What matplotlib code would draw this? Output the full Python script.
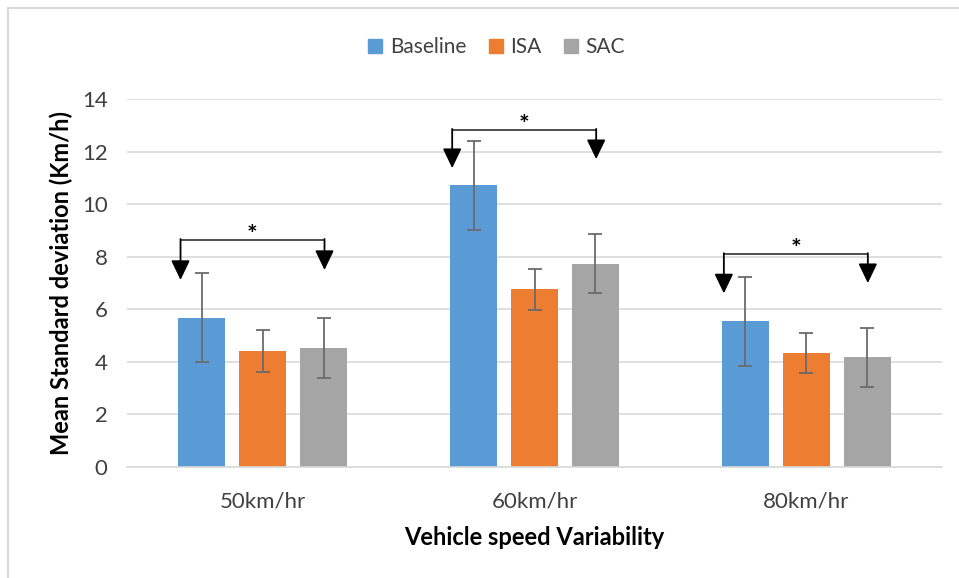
import numpy as np
import matplotlib.pyplot as plt
from matplotlib.lines import Line2D

plt.rcParams['font.family'] = ['Lato', 'DejaVu Sans']

# data
categories = ['50km/hr', '60km/hr', '80km/hr']
series_names = ['Baseline', 'ISA', 'SAC']
baseline = [5.68, 10.72, 5.54]
baseline_err = [1.70, 1.69, 1.69]
isa = [4.41, 6.76, 4.32]
isa_err = [0.79, 0.78, 0.77]
sac = [4.51, 7.73, 4.17]
sac_err = [1.15, 1.13, 1.12]

# significance brackets (Baseline vs SAC)
bracket_y = [8.64, 12.83, 8.10]
left_tip = [7.11, 11.37, 6.60]
right_tip = [7.49, 11.71, 6.99]

colors = ['#5B9BD5', '#ED7D31', '#A5A5A5']

fig = plt.figure(figsize=(9.59, 5.78), dpi=100)
ax = fig.add_axes([127 / 959, 1 - 466.7 / 578, 815 / 959, (466.7 - 99) / 578])

x = np.arange(len(categories))
step = 0.2245
width = 0.173
values = [baseline, isa, sac]
errs = [baseline_err, isa_err, sac_err]
for k in range(3):
    ax.bar(x + (k - 1) * step, values[k], width, color=colors[k], label=series_names[k],
           zorder=2)
    ax.errorbar(x + (k - 1) * step, values[k], yerr=errs[k], fmt='none', ecolor='#6b6b6b',
                elinewidth=1.3, capsize=5, capthick=1.3, zorder=3)

# brackets with arrows
for i in range(3):
    xl = x[i] - 0.303
    xr = x[i] + 0.227
    ax.plot([xl, xr], [bracket_y[i], bracket_y[i]], color='#404040', lw=1.3, zorder=4,
            solid_capstyle='butt')
    for xx, tip in [(xl, left_tip[i]), (xr, right_tip[i])]:
        ax.annotate('', xy=(xx, tip), xytext=(xx, bracket_y[i] + 0.03),
                    arrowprops=dict(arrowstyle='-|>,head_length=1.0,head_width=0.48',
                                    mutation_scale=12, color='black', lw=1.3,
                                    shrinkA=0, shrinkB=0), zorder=4)
    ax.text((xl + xr) / 2, bracket_y[i] + 0.17, '*', ha='center', va='center',
            fontsize=18, fontweight='bold', color='black')

ax.set_xlim(-0.5, 2.5)
ax.set_ylim(0, 14)
ax.set_yticks(np.arange(0, 15, 2))
ax.set_xticks(x)
ax.set_xticklabels(categories)
ax.tick_params(axis='both', length=0, labelsize=16, colors='#404040')
ax.tick_params(axis='y', pad=14)
ax.tick_params(axis='x', pad=18)
ax.grid(axis='y', color='#d9d9d9', lw=1.2, zorder=0)
ax.set_axisbelow(True)
for s in ['top', 'right', 'left']:
    ax.spines[s].set_visible(False)
ax.spines['bottom'].set_color('#d9d9d9')
ax.spines['bottom'].set_linewidth(1.2)

ax.set_ylabel('Mean Standard deviation (Km/h)', fontsize=17, fontweight='bold')
ax.yaxis.set_label_coords(-0.066, 0.5)
ax.set_xlabel('Vehicle speed Variability', fontsize=17, fontweight='bold', labelpad=10)

handles = [Line2D([], [], marker='s', ls='none', markersize=10, color=c) for c in colors]
fig.legend(handles, series_names, loc='center', bbox_to_anchor=(0.516, 0.918), ncol=3,
           frameon=False, fontsize=15, handletextpad=0.2, columnspacing=0.9,
           handlelength=1.0, labelcolor='#404040')

# outer frame (left and top edges visible)
fig.add_artist(Line2D([8 / 959, 8 / 959], [0, 1 - 8 / 578], color='#d9d9d9', lw=1.5))
fig.add_artist(Line2D([8 / 959, 1], [1 - 8 / 578, 1 - 8 / 578], color='#d9d9d9', lw=1.5))

fig.savefig('out.png', dpi=100)
